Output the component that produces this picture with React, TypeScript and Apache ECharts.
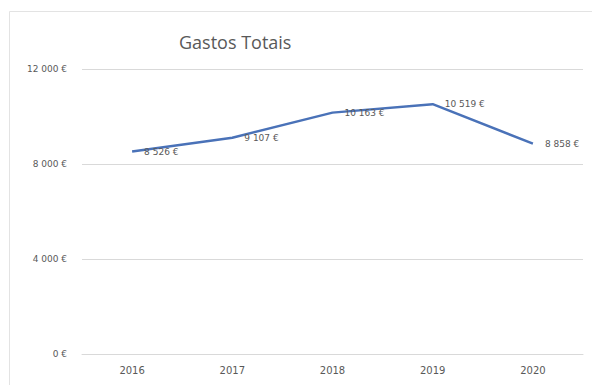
import React, { useEffect, useRef } from "react";
import * as echarts from "echarts";

const categories = ["2016", "2017", "2018", "2019", "2020"];
const gastos = [8526, 9107, 10163, 10519, 8858];
const yTicks = [0, 4000, 8000, 12000];

const fmt = (v: number) =>
  String(Math.round(v)).replace(/\B(?=(\d{3})+(?!\d))/g, " ") + " €";

export default function App() {
  const ref = useRef<HTMLDivElement>(null);
  useEffect(() => {
    if (!ref.current) return;
    const chart = echarts.init(ref.current, null, { renderer: "svg" });
    chart.setOption({
      animation: false,
      backgroundColor: "#ffffff",
      title: {
        text: "Gastos Totais",
        left: 174,
        top: 28,
        textStyle: {
          fontFamily: "Open Sans",
          fontSize: 18,
          fontWeight: "normal",
          color: "#595959",
        },
      },
      graphic: [
        {
          type: "line",
          shape: { x1: 9.5, y1: 11.5, x2: 9.5, y2: 385 },
          style: { stroke: "#e3e3e3", lineWidth: 1 },
        },
        {
          type: "line",
          shape: { x1: 9.5, y1: 11.5, x2: 592, y2: 11.5 },
          style: { stroke: "#e3e3e3", lineWidth: 1 },
        },
      ],
      grid: { left: 82, right: 9, top: 69, bottom: 31 },
      xAxis: {
        type: "category",
        data: categories,
        boundaryGap: true,
        axisLine: { show: true, lineStyle: { color: "#d9d9d9", width: 1 } },
        axisTick: { show: false },
        axisLabel: {
          color: "#595959",
          fontSize: 10,
          fontFamily: "DejaVu Sans",
          margin: 11,
        },
      },
      yAxis: {
        type: "value",
        min: yTicks[0],
        max: yTicks[yTicks.length - 1],
        interval: 4000,
        axisLine: { show: false },
        axisTick: { show: false },
        splitLine: { lineStyle: { color: "#d9d9d9", width: 1 } },
        axisLabel: {
          color: "#595959",
          fontSize: 9,
          fontFamily: "DejaVu Sans",
          margin: 15,
          formatter: (v: number) => fmt(v),
        },
      },
      series: [
        {
          type: "line",
          data: gastos,
          symbol: "circle",
          symbolSize: 2,
          showSymbol: true,
          itemStyle: { color: "rgba(0,0,0,0)", borderWidth: 0 },
          lineStyle: { color: "#4a72b8", width: 2.5 },
          label: {
            show: true,
            position: "right",
            distance: 11,
            color: "#595959",
            fontSize: 9,
            fontFamily: "DejaVu Sans",
            formatter: (p: any) => fmt(p.value),
          },
        },
      ],
    });
    return () => chart.dispose();
  }, []);
  return (
    <div
      ref={ref}
      style={{ position: "absolute", left: 0, top: 0, width: 592, height: 385 }}
    />
  );
}
